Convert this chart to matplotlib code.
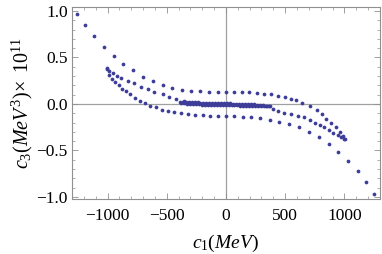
import matplotlib
matplotlib.use("Agg")
import matplotlib.pyplot as plt
from matplotlib.ticker import MultipleLocator

plt.rcParams['font.family'] = ['Liberation Serif', 'DejaVu Serif']
plt.rcParams['mathtext.fontset'] = 'custom'
plt.rcParams['mathtext.rm'] = 'Liberation Serif'
plt.rcParams['mathtext.it'] = 'Liberation Serif:italic'
plt.rcParams['mathtext.bf'] = 'Liberation Serif:bold'

# Curve A: top-left, over the left tip, flat near +0.13, down to the right tip
a_x = [-1257, -1187, -1111, -1033, -948, -869, -788, -704, -619, -535, -456, -371, -297,
       -217, -141, -71, 0, 70, 135, 197, 262, 323, 380, 439, 495, 551, 591,
       641, 711, 765, 810, 844, 886, 928, 962, 990, 1007]
a_y = [0.97, 0.845, 0.726, 0.61, 0.52, 0.43, 0.36, 0.295, 0.248, 0.205, 0.173, 0.151, 0.140,
       0.135, 0.131, 0.129, 0.129, 0.126, 0.126, 0.126, 0.119, 0.111, 0.105, 0.090, 0.072, 0.054, 0.040,
       0.007, -0.022, -0.065, -0.108, -0.162, -0.208, -0.251, -0.298, -0.345, -0.381]

# Curve B: left tip, flat near -0.13, under the right tip, down to bottom-right
b_x = [-1007, -991, -964, -939, -906, -878, -844, -808, -768, -726, -681, -641, -591, -540,
       -493, -436, -380, -324, -262, -198, -135, -71, 0, 70, 140, 211, 289, 371,
       450, 534, 619, 703, 787, 872, 950, 1030, 1111, 1181, 1254]
b_y = [0.381, 0.313, 0.266, 0.234, 0.202, 0.165, 0.137, 0.108, 0.068, 0.036, 0.008, -0.018, -0.036, -0.065,
       -0.076, -0.090, -0.100, -0.111, -0.119, -0.122, -0.126, -0.126, -0.129, -0.133, -0.137, -0.143, -0.154, -0.169,
       -0.19, -0.216, -0.251, -0.302, -0.36, -0.43, -0.52, -0.618, -0.726, -0.84, -0.967]

# Curve C: middle branch joining both tips
c_x = [-1008, -985, -957, -923, -886, -830, -774, -717, -662, -605, -535, -478, -422, -352,
       394, 436, 492, 549, 605, 661, 709, 751, 793, 830, 866, 900, 942, 970, 998]
c_y = [0.385, 0.359, 0.331, 0.302, 0.277, 0.248, 0.223, 0.187, 0.159, 0.133, 0.105, 0.079, 0.054, 0.032,
       -0.057, -0.072, -0.094, -0.108, -0.129, -0.144, -0.173, -0.202, -0.223, -0.245, -0.28, -0.31, -0.334, -0.359, -0.381]

# Dense central band (two close rows)
d1_x = [-390, -365, -340, -315, -290, -265, -240, -215, -190, -165, -140, -115, -90, -65, -40, -15,
        10, 35, 60, 85, 110, 135, 160, 185, 210, 235, 260, 285, 310, 335, 360]
d1_y = [0.022, 0.021, 0.020, 0.019, 0.018, 0.017, 0.016, 0.015, 0.014, 0.013, 0.012, 0.011, 0.010, 0.009, 0.008, 0.007,
        0.006, 0.005, 0.004, 0.003, 0.002, 0.001, 0.000, -0.002, -0.004, -0.006, -0.008, -0.011, -0.014, -0.017, -0.020]
d2_x = [-378, -353, -328, -303, -278, -253, -228, -203, -178, -153, -128, -103, -78, -53, -28, -3,
        22, 47, 72, 97, 122, 147, 172, 197, 222, 247, 272, 297, 322, 347, 372]
d2_y = [0.012, 0.008, 0.004, 0.001, -0.002, -0.004, -0.006, -0.008, -0.009, -0.010, -0.011, -0.012, -0.013, -0.013, -0.014, -0.014,
        -0.015, -0.015, -0.016, -0.016, -0.017, -0.018, -0.019, -0.020, -0.021, -0.022, -0.023, -0.024, -0.025, -0.026, -0.027]

x_ticks = [-1000, -500, 0, 500, 1000]
y_ticks = [-1.0, -0.5, 0.0, 0.5, 1.0]

fig = plt.figure(figsize=(3.82, 2.54), dpi=100)
ax = fig.add_axes([0.1885, 0.2177, 0.806, 0.7535])

color = '#3d3d99'
for xs, ys in [(a_x, a_y), (b_x, b_y), (c_x, c_y), (d1_x, d1_y), (d2_x, d2_y)]:
    ax.plot(xs, ys, 'o', color=color, markersize=2.7, markeredgewidth=0, zorder=3)

ax.axhline(0, color='#a0a0a0', lw=0.9, zorder=1)
ax.axvline(0, color='#a0a0a0', lw=0.9, zorder=1)

ax.set_xlim(-1300, 1300)
ax.set_ylim(-1.02, 1.04)
ax.set_xticks(x_ticks)
ax.set_yticks(y_ticks)
ax.set_xticklabels([f"{v:d}".replace('-', '\u2212') for v in x_ticks])
ax.set_yticklabels([f"{v:.1f}".replace('-', '\u2212') for v in y_ticks])
ax.xaxis.set_minor_locator(MultipleLocator(100))
ax.yaxis.set_minor_locator(MultipleLocator(0.1))
ax.tick_params(which='both', direction='in', top=True, right=True, color='#909090',
               labelsize=12.5, labelcolor='black')
ax.tick_params(which='major', length=4, width=0.6)
ax.tick_params(which='minor', length=2, width=0.5)
ax.tick_params(axis='x', pad=7)
ax.tick_params(axis='y', pad=3)
for s in ax.spines.values():
    s.set_color('#909090')
    s.set_linewidth(0.8)

ax.set_xlabel(r'$c_1(MeV)$', fontsize=14, labelpad=6)
ax.set_ylabel(r'$c_3(MeV^3)\!\times\ \mathit{10}^{\mathit{11}}$', fontsize=14.5, labelpad=1)

fig.savefig('out.png', dpi=100)
